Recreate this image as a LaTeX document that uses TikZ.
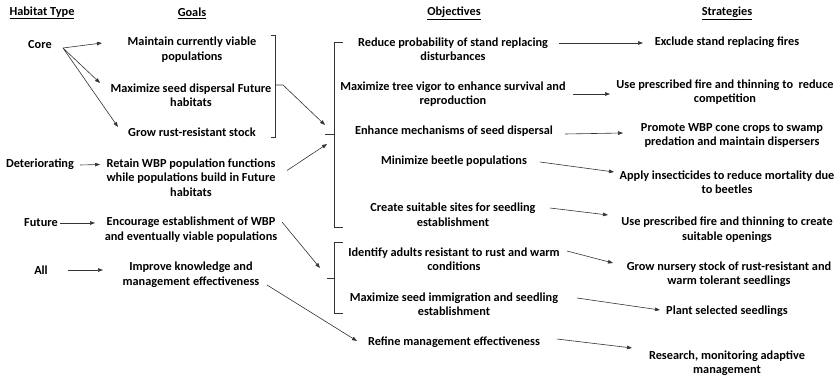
\documentclass[tikz,border=0pt]{standalone}
\usepackage{fontspec}
\setmainfont{Carlito}
\usetikzlibrary{arrows.meta,calc}
\begin{document}
\begin{tikzpicture}[x=1pt,y=-1pt,
  every node/.style={inner sep=0pt,font=\bfseries\fontsize{12.3}{14.5}\selectfont,align=center},
  hdr/.style={},
  arr/.style={draw=black!80,line width=0.6pt,-{Triangle[length=5pt,width=3.6pt]}},
  brk/.style={draw=black!80,line width=0.6pt},
  lin/.style={draw=black!80,line width=0.6pt}]
\useasboundingbox (0,0) rectangle (840,379);
% headers
\node[hdr] (h0) at (42,13) {\underline{Habitat Type}};
\node[hdr] (h1) at (192,13) {\underline{Goals}};
\node[hdr] (h2) at (454,13) {\underline{Objectives}};
\node[hdr] (h3) at (727,13) {\underline{Strategies}};
% habitat types
\node (core) at (40,45) {Core};
\node (det) at (40,164) {Deteriorating};
\node (fut) at (41,223) {Future};
\node (all) at (41,270) {All};
% goals
\node (g1) at (192,49.5) {Maintain currently viable\\populations};
\node (g2) at (191,95) {Maximize seed dispersal Future\\habitats};
\node (g3) at (192,132) {Grow rust-resistant stock};
\node (g4) at (191,177.5) {Retain WBP population functions\\while populations build in Future\\habitats};
\node (g5) at (191,229.5) {Encourage establishment of WBP\\and eventually viable populations};
\node (g6) at (191,274.5) {Improve knowledge and\\management effectiveness};
% objectives
\node (o1) at (453,49) {Reduce probability of stand replacing\\disturbances};
\node (o2) at (453,94) {Maximize tree vigor to enhance survival and\\reproduction};
\node (o3) at (454,131) {Enhance mechanisms of seed dispersal};
\node (o4) at (454,161) {Minimize beetle populations};
\node (o5) at (453,214.5) {Create suitable sites for seedling\\establishment};
\node (o6) at (454,259) {Identify adults resistant to rust and warm\\conditions};
\node (o7) at (454,304) {Maximize seed immigration and seedling\\establishment};
\node (o8) at (454,342) {Refine management effectiveness};
% strategies
\node (s1) at (727,42) {Exclude stand replacing fires};
\node (s2) at (725,92) {Use prescribed fire and thinning to\ \ reduce\\competition};
\node (s3) at (732,135.5) {Promote WBP cone crops to swamp\\predation and maintain dispersers};
\node (s4) at (727,182) {Apply insecticides to reduce mortality due\\to beetles};
\node (s5) at (727,229.5) {Use prescribed fire and thinning to create\\suitable openings};
\node (s6) at (729,274) {Grow nursery stock of rust-resistant and\\warm tolerant seedlings};
\node (s7) at (727,311) {Plant selected seedlings};
\node (s8) at (727,363) {Research, monitoring adaptive\\management};
% habitat -> goals
\draw[arr] ($(core.center)+(23,3)$) -- ($(g1.center)+(-90,-6.5)$);
\draw[arr] ($(core.center)+(23,3)$) -- ($(g2.center)+(-91,-12)$);
\draw[arr] ($(core.center)+(23,3)$) -- ($(g3.center)+(-74,-5)$);
\draw[arr] ($(det.center)+(40,1)$) -- ($(g4.center)+(-91,-13)$);
\draw[arr] ($(fut.center)+(19,0)$) -- ($(g5.center)+(-96,-6.5)$);
\draw[arr] ($(all.center)+(27,0)$) -- ($(g6.center)+(-88,-4.5)$);
% goal bracket
\coordinate (b1t) at (271,35);
\coordinate (b1b) at (271,137);
\coordinate (b1m) at (275,85);
\draw[brk] (b1t) -- ++(4,0) |- (b1b);
% objective brackets
\coordinate (ob1t) at (343,42);
\coordinate (ob1b) at (343,227);
\coordinate (ob1m) at (334,134);
\draw[brk] (ob1t) -- ++(-9,0) |- (ob1b);
\draw[lin] (ob1m) -- ++(-9,0);
\coordinate (ob2t) at (343,242);
\coordinate (ob2b) at (343,313);
\coordinate (ob2m) at (334,278);
\draw[brk] (ob2t) -- ++(-9,0) |- (ob2b);
\draw[lin] (ob2m) -- ++(-7,0);
% goals -> objectives
\draw[arr] (b1m) -- ++(8,0) -- ($(ob1m)+(-9,-9)$);
\draw[arr] ($(g4.center)+(96,-7)$) -- ($(ob1m)+(-7,10)$);
\draw[arr] ($(g5.center)+(91,-7.5)$) -- ($(ob2m)+(-14,-10)$);
\draw[arr] ($(g6.center)+(76,10.5)$) -- ($(o8.center)+(-97,-1)$);
% objectives -> strategies
\draw[arr] ($(o1.center)+(106,-6)$) -- ($(s1.center)+(-84,1)$);
\draw[arr] ($(o2.center)+(120,0)$) -- ($(s2.center)+(-115,2)$);
\draw[arr] ($(o3.center)+(111,3)$) -- ($(s3.center)+(-109,-2.5)$);
\draw[arr] ($(o4.center)+(86,1)$) -- ($(s4.center)+(-113,-10)$);
\draw[arr] ($(o5.center)+(97,-6.5)$) -- ($(s5.center)+(-119,-14.5)$);
\draw[arr] ($(o6.center)+(113,-8)$) -- ($(s6.center)+(-116,-11)$);
\draw[arr] ($(o7.center)+(123,-6)$) -- ($(s7.center)+(-67,-1)$);
\draw[arr] ($(o8.center)+(103,-3)$) -- ($(s8.center)+(-95,-15)$);
\end{tikzpicture}
\end{document}
